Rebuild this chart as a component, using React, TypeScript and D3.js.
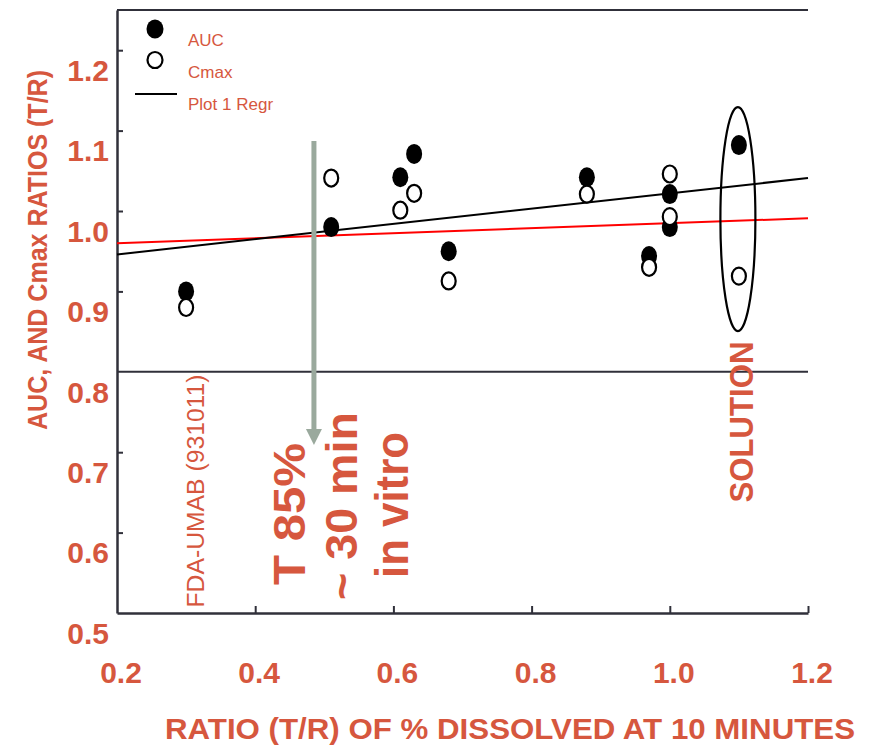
import React, { useEffect, useRef } from 'react'
import * as d3 from 'd3'

// values
const aucX = [0.30, 0.51, 0.61, 0.63, 0.68, 0.88, 0.97, 1.00, 1.00, 1.10]
const aucY = [0.900, 0.980, 1.042, 1.071, 0.950, 1.042, 0.944, 1.021, 0.980, 1.082]
const cmaxX = [0.30, 0.51, 0.61, 0.63, 0.68, 0.88, 0.97, 1.00, 1.00, 1.10]
const cmaxY = [0.880, 1.041, 1.001, 1.022, 0.913, 1.021, 0.930, 1.046, 0.993, 0.919]

const regrBlack = [[0.2, 0.946], [1.2, 1.041]]
const regrRed = [[0.2, 0.960], [1.2, 0.991]]

const xTickLabels = [0.2, 0.4, 0.6, 0.8, 1.0, 1.2]
const yTickLabels = [0.5, 0.6, 0.7, 0.8, 0.9, 1.0, 1.1, 1.2]
const legendNames = ['AUC', 'Cmax', 'Plot 1 Regr']

const ORANGE = '#d6573e'
const AXIS = '#30303a'
const FONT = '"Liberation Sans", Arial, sans-serif'

function drawChart(node: SVGSVGElement) {
  const svg = d3.select(node)
  svg.selectAll('*').remove()

  const x = d3.scaleLinear().domain([0.2, 1.2]).range([117, 808])
  const y = d3.scaleLinear().domain([0.5, 1.25]).range([613, 10])

  // frame: top line, 0.8 reference line
  svg.append('line')
    .attr('x1', x(0.2)).attr('x2', x(1.2))
    .attr('y1', y(1.25)).attr('y2', y(1.25))
    .attr('stroke', AXIS).attr('stroke-width', 2)
  svg.append('line')
    .attr('x1', x(0.2)).attr('x2', x(1.2))
    .attr('y1', y(0.8)).attr('y2', y(0.8))
    .attr('stroke', AXIS).attr('stroke-width', 2)

  // y axis, ticks pointing inwards
  const yAxis = svg.append('g')
    .attr('transform', 'translate(' + x(0.2) + ',0)')
    .call(d3.axisRight(y).tickValues([0.6, 0.7, 0.9, 1.0, 1.1, 1.2]).tickSize(6).tickSizeOuter(0).tickFormat(() => ''))
  yAxis.select('.domain').attr('stroke', AXIS).attr('stroke-width', 2.5)
  yAxis.selectAll('.tick line').attr('stroke', AXIS).attr('stroke-width', 2)

  // x axis
  const xAxis = svg.append('g')
    .attr('transform', 'translate(0,' + y(0.5) + ')')
    .call(d3.axisTop(x).tickValues([0.4, 0.6, 0.8, 1.0, 1.2]).tickSize(7).tickSizeOuter(0).tickFormat(() => ''))
  xAxis.select('.domain').attr('stroke', AXIS).attr('stroke-width', 2.5)
  xAxis.selectAll('.tick line').attr('stroke', AXIS).attr('stroke-width', 2)

  // tick labels (they sit a little below their ticks in the original)
  svg.append('g').selectAll('text')
    .data(yTickLabels)
    .enter().append('text')
    .attr('x', 109)
    .attr('y', (d) => y(d) + 20)
    .attr('dy', '0.36em')
    .attr('text-anchor', 'end')
    .attr('font-family', FONT).attr('font-weight', 'bold').attr('font-size', 30)
    .attr('fill', ORANGE)
    .text((d) => d.toFixed(1))

  svg.append('g').selectAll('text')
    .data(xTickLabels)
    .enter().append('text')
    .attr('x', (d) => x(d) + 4)
    .attr('y', 683)
    .attr('text-anchor', 'middle')
    .attr('font-family', FONT).attr('font-weight', 'bold').attr('font-size', 30)
    .attr('fill', ORANGE)
    .text((d) => d.toFixed(1))

  // axis titles
  svg.append('text')
    .attr('transform', 'translate(47,250) rotate(-90)')
    .attr('text-anchor', 'middle')
    .attr('font-family', FONT).attr('font-weight', 'bold').attr('font-size', 28)
    .attr('textLength', 360).attr('lengthAdjust', 'spacingAndGlyphs')
    .attr('fill', ORANGE)
    .text('AUC, AND Cmax RATIOS (T/R)')

  svg.append('text')
    .attr('x', 510).attr('y', 739)
    .attr('text-anchor', 'middle')
    .attr('font-family', FONT).attr('font-weight', 'bold').attr('font-size', 29)
    .attr('textLength', 690).attr('lengthAdjust', 'spacingAndGlyphs')
    .attr('fill', ORANGE)
    .text('RATIO (T/R) OF % DISSOLVED AT 10 MINUTES')

  // regression lines
  const line = d3.line<number[]>().x((d) => x(d[0])).y((d) => y(d[1]))
  svg.append('path').attr('d', line(regrRed)).attr('stroke', '#ff0000').attr('stroke-width', 2).attr('fill', 'none')
  svg.append('path').attr('d', line(regrBlack)).attr('stroke', '#000').attr('stroke-width', 2).attr('fill', 'none')

  // grey arrow at T85% ~ 30 min
  const ax = x(0.485)
  svg.append('line')
    .attr('x1', ax).attr('x2', ax)
    .attr('y1', 141).attr('y2', 432)
    .attr('stroke', '#9aa99d').attr('stroke-width', 5)
  svg.append('path')
    .attr('d', 'M' + (ax - 8) + ',429L' + (ax + 8) + ',429L' + ax + ',445Z')
    .attr('fill', '#9aa99d')

  // markers
  svg.append('g').selectAll('ellipse')
    .data(d3.range(aucX.length))
    .enter().append('ellipse')
    .attr('cx', (i) => x(aucX[i]))
    .attr('cy', (i) => y(aucY[i]))
    .attr('rx', 8).attr('ry', 10)
    .attr('fill', '#000')

  svg.append('g').selectAll('ellipse')
    .data(d3.range(cmaxX.length))
    .enter().append('ellipse')
    .attr('cx', (i) => x(cmaxX[i]))
    .attr('cy', (i) => y(cmaxY[i]))
    .attr('rx', 7).attr('ry', 8.5)
    .attr('fill', '#fff').attr('stroke', '#000').attr('stroke-width', 2.2)

  // ellipse round the solution pair
  svg.append('ellipse')
    .attr('cx', x(1.1) - 1).attr('cy', y(0.99))
    .attr('rx', 17.5).attr('ry', 112)
    .attr('fill', 'none').attr('stroke', '#000').attr('stroke-width', 2.2)

  // annotations
  const rotText = (bx: number, cy: number, txt: string, size: number, weight: string, len: number) =>
    svg.append('text')
      .attr('transform', 'translate(' + bx + ',' + cy + ') rotate(-90)')
      .attr('text-anchor', 'middle')
      .attr('font-family', FONT).attr('font-weight', weight).attr('font-size', size)
      .attr('textLength', len).attr('lengthAdjust', 'spacingAndGlyphs')
      .attr('fill', ORANGE)
      .text(txt)

  rotText(x(0.3) + 18, 491, 'FDA-UMAB (931011)', 23, 'normal', 233)
  rotText(305, 514, 'T 85%', 44, 'bold', 142)
  rotText(357, 506, '~ 30 min', 44, 'bold', 188)
  rotText(408, 505, 'in vitro', 46, 'bold', 146)
  rotText(x(1.1) + 14, 422, 'SOLUTION', 33, 'bold', 161)

  // legend
  const lg = svg.append('g')
  lg.append('ellipse').attr('cx', 155).attr('cy', 29).attr('rx', 8.5).attr('ry', 9.5).attr('fill', '#000')
  lg.append('ellipse').attr('cx', 155).attr('cy', 60).attr('rx', 7.5).attr('ry', 8)
    .attr('fill', '#fff').attr('stroke', '#000').attr('stroke-width', 2.2)
  lg.append('line').attr('x1', 135).attr('x2', 177).attr('y1', 94).attr('y2', 94)
    .attr('stroke', '#000').attr('stroke-width', 2)
  lg.selectAll('text')
    .data(legendNames)
    .enter().append('text')
    .attr('x', 188)
    .attr('y', (d, i) => 46 + i * 32)
    .attr('font-family', FONT).attr('font-size', 17)
    .attr('fill', ORANGE)
    .text((d) => d)
}

export default function App() {
  const ref = useRef<SVGSVGElement>(null)
  useEffect(() => {
    if (ref.current) drawChart(ref.current)
  }, [])
  return (
    <svg
      ref={ref}
      width={871}
      height={748}
      style={{ position: 'absolute', left: 0, top: 0, background: '#fff' }}
    />
  )
}
